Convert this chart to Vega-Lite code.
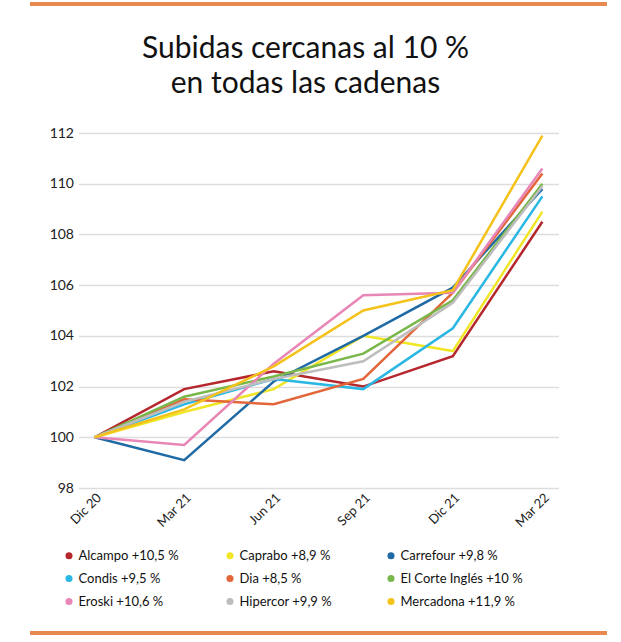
{
  "$schema": "https://vega.github.io/schema/vega-lite/v6.json",
  "background": "white",
  "padding": {"left": 18, "top": 2, "right": 0, "bottom": 0},
  "spacing": 22,
  "center": true,
  "resolve": {"legend": {"color": "independent"}},
  "config": {"view": {"stroke": null}, "font": "Lato"},
  "datasets": {
    "series": [
      {"cadena": "Alcampo", "mes": "Dic 20", "indice": 100}, {"cadena": "Alcampo", "mes": "Mar 21", "indice": 101.9}, {"cadena": "Alcampo", "mes": "Jun 21", "indice": 102.6}, {"cadena": "Alcampo", "mes": "Sep 21", "indice": 102.0}, {"cadena": "Alcampo", "mes": "Dic 21", "indice": 103.2}, {"cadena": "Alcampo", "mes": "Mar 22", "indice": 108.5},
      {"cadena": "Caprabo", "mes": "Dic 20", "indice": 100}, {"cadena": "Caprabo", "mes": "Mar 21", "indice": 101.0}, {"cadena": "Caprabo", "mes": "Jun 21", "indice": 101.9}, {"cadena": "Caprabo", "mes": "Sep 21", "indice": 104.0}, {"cadena": "Caprabo", "mes": "Dic 21", "indice": 103.4}, {"cadena": "Caprabo", "mes": "Mar 22", "indice": 108.9},
      {"cadena": "Carrefour", "mes": "Dic 20", "indice": 100}, {"cadena": "Carrefour", "mes": "Mar 21", "indice": 99.1}, {"cadena": "Carrefour", "mes": "Jun 21", "indice": 102.2}, {"cadena": "Carrefour", "mes": "Sep 21", "indice": 104.0}, {"cadena": "Carrefour", "mes": "Dic 21", "indice": 105.9}, {"cadena": "Carrefour", "mes": "Mar 22", "indice": 109.8},
      {"cadena": "Condis", "mes": "Dic 20", "indice": 100}, {"cadena": "Condis", "mes": "Mar 21", "indice": 101.3}, {"cadena": "Condis", "mes": "Jun 21", "indice": 102.3}, {"cadena": "Condis", "mes": "Sep 21", "indice": 101.9}, {"cadena": "Condis", "mes": "Dic 21", "indice": 104.3}, {"cadena": "Condis", "mes": "Mar 22", "indice": 109.5},
      {"cadena": "Dia", "mes": "Dic 20", "indice": 100}, {"cadena": "Dia", "mes": "Mar 21", "indice": 101.5}, {"cadena": "Dia", "mes": "Jun 21", "indice": 101.3}, {"cadena": "Dia", "mes": "Sep 21", "indice": 102.3}, {"cadena": "Dia", "mes": "Dic 21", "indice": 105.7}, {"cadena": "Dia", "mes": "Mar 22", "indice": 110.4},
      {"cadena": "El Corte Inglés", "mes": "Dic 20", "indice": 100}, {"cadena": "El Corte Inglés", "mes": "Mar 21", "indice": 101.6}, {"cadena": "El Corte Inglés", "mes": "Jun 21", "indice": 102.4}, {"cadena": "El Corte Inglés", "mes": "Sep 21", "indice": 103.3}, {"cadena": "El Corte Inglés", "mes": "Dic 21", "indice": 105.4}, {"cadena": "El Corte Inglés", "mes": "Mar 22", "indice": 110.0},
      {"cadena": "Eroski", "mes": "Dic 20", "indice": 100}, {"cadena": "Eroski", "mes": "Mar 21", "indice": 99.7}, {"cadena": "Eroski", "mes": "Jun 21", "indice": 102.9}, {"cadena": "Eroski", "mes": "Sep 21", "indice": 105.6}, {"cadena": "Eroski", "mes": "Dic 21", "indice": 105.7}, {"cadena": "Eroski", "mes": "Mar 22", "indice": 110.6},
      {"cadena": "Hipercor", "mes": "Dic 20", "indice": 100}, {"cadena": "Hipercor", "mes": "Mar 21", "indice": 101.4}, {"cadena": "Hipercor", "mes": "Jun 21", "indice": 102.3}, {"cadena": "Hipercor", "mes": "Sep 21", "indice": 103.0}, {"cadena": "Hipercor", "mes": "Dic 21", "indice": 105.3}, {"cadena": "Hipercor", "mes": "Mar 22", "indice": 109.9},
      {"cadena": "Mercadona", "mes": "Dic 20", "indice": 100}, {"cadena": "Mercadona", "mes": "Mar 21", "indice": 101.1}, {"cadena": "Mercadona", "mes": "Jun 21", "indice": 102.8}, {"cadena": "Mercadona", "mes": "Sep 21", "indice": 105.0}, {"cadena": "Mercadona", "mes": "Dic 21", "indice": 105.8}, {"cadena": "Mercadona", "mes": "Mar 22", "indice": 111.9}
    ]
  },
  "vconcat": [
    {
      "spacing": 28,
      "center": true,
      "resolve": {"legend": {"color": "independent"}},
      "vconcat": [
        {
          "width": 577, "height": 4,
          "data": {"values": [{}]},
          "mark": {"type": "point", "opacity": 0, "size": 1},
          "view": {"fill": "#e8894f", "stroke": null}
        },
        {
          "title": {
            "text": ["Subidas cercanas al 10 %", "en todas las cadenas"],
            "font": "Lato", "fontSize": 30, "fontWeight": "normal", "color": "#111111",
            "lineHeight": 35, "offset": 27, "dx": -13, "anchor": "middle", "frame": "group"
          },
          "width": 480, "height": 355,
          "data": {"name": "series"},
          "mark": {"type": "line", "strokeWidth": 2.5},
          "encoding": {
            "x": {
              "field": "mes", "type": "ordinal",
              "sort": ["Dic 20", "Mar 21", "Jun 21", "Sep 21", "Dic 21", "Mar 22"],
              "scale": {"padding": 0.18},
              "axis": {"title": null, "labelAngle": -45, "labelAlign": "right", "labelBaseline": "top", "labelPadding": 3, "domain": false, "ticks": false, "labelFont": "Lato", "labelFontSize": 13, "labelColor": "#222222"}
            },
            "y": {
              "field": "indice", "type": "quantitative",
              "scale": {"domain": [98, 112], "nice": false, "zero": false},
              "axis": {"title": null, "values": [98, 100, 102, 104, 106, 108, 110, 112], "domain": false, "ticks": false, "gridColor": "#dddddd", "gridWidth": 1.5, "labelPadding": 5, "minExtent": 60, "labelFont": "Lato", "labelFontSize": 14, "labelColor": "#222222"}
            },
            "color": {
              "field": "cadena", "type": "nominal",
              "scale": {
                "domain": ["Alcampo", "Condis", "Eroski", "Caprabo", "Dia", "Hipercor", "Carrefour", "El Corte Inglés", "Mercadona"],
                "range": ["#b5262d", "#2bb7e3", "#e886b6", "#f1e626", "#e2663a", "#bdbdbd", "#1f6aa5", "#79b74a", "#f4c21a"]
              },
              "legend": {
                "title": null, "orient": "none", "legendX": -16, "legendY": 416,
                "columns": 3, "gridAlign": "all", "columnPadding": 22, "rowPadding": 9, "padding": 0,
                "symbolType": "circle", "symbolSize": 50, "labelFont": "Lato", "labelFontSize": 13, "labelColor": "#111111", "labelLimit": 250, "labelOffset": 3,
                "labelExpr": "datum.label + ' ' + ({'Alcampo': '+10,5 %', 'Condis': '+9,5 %', 'Eroski': '+10,6 %', 'Caprabo': '+8,9 %', 'Dia': '+8,5 %', 'Hipercor': '+9,9 %', 'Carrefour': '+9,8 %', 'El Corte Inglés': '+10 %', 'Mercadona': '+11,9 %'})[datum.label]",
                "encode": {"symbols": {"update": {"fill": {"scale": "color", "field": "value"}, "fillOpacity": {"value": 1}, "strokeWidth": {"value": 0}}}}
              }
            }
          }
        }
      ]
    },
    {
      "width": 577, "height": 4,
      "data": {"values": [{}]},
      "mark": {"type": "point", "opacity": 0, "size": 1},
      "view": {"fill": "#e8894f", "stroke": null}
    }
  ]
}
